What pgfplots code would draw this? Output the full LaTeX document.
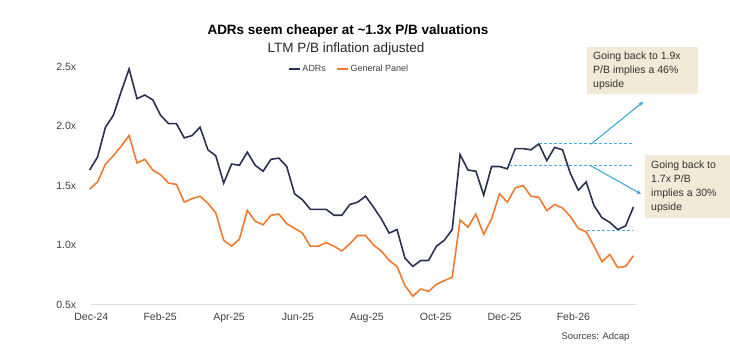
\documentclass[border=0pt]{standalone}
\usepackage{pgfplots}
\pgfplotsset{compat=1.18}
\usepackage{fontspec}
\setmainfont{Liberation Sans}
\usetikzlibrary{arrows.meta}
\definecolor{adr}{HTML}{2B3150}
\definecolor{gp}{HTML}{EE7B30}
\definecolor{dashc}{HTML}{45AEE0}
\definecolor{arrc}{HTML}{2EA3D8}
\definecolor{boxc}{HTML}{F4E8D6}
\definecolor{tickc}{HTML}{404040}
\begin{document}
\begin{tikzpicture}
\path[use as bounding box] (0pt,0pt) rectangle (730pt,360pt);
\begin{axis}[
  at={(89.7pt,55.5pt)}, anchor=south west,
  scale only axis, width=547.3pt, height=238pt,
  xmin=0, xmax=69.45, ymin=0.5, ymax=2.5,
  axis x line*=bottom, axis y line*=left,
  x axis line style={draw=black!12, line width=1.2pt},
  y axis line style={draw=none},
  major tick length=0pt,
  xtick={0.2,8.94,17.68,26.42,35.16,43.9,52.64,61.38},
  xticklabels={Dec-24,Feb-25,Apr-25,Jun-25,Aug-25,Oct-25,Dec-25,Feb-26},
  ytick={0.5,1,1.5,2,2.5},
  yticklabel={\pgfmathprintnumber[fixed,fixed zerofill,precision=1]{\tick}x},
  /pgf/number format/assume math mode=true,
  tick label style={font=\fontsize{10.5}{12}\selectfont, text=tickc},
  yticklabel style={xshift=-10pt},
  xticklabel style={yshift=-5pt},
  clip=false,
  legend columns=2,
  legend style={draw=none, fill=none, at={(0.4738,0.9895)}, anchor=center,
    font=\fontsize{9}{10}\selectfont, text=tickc,
    /tikz/every even column/.append style={column sep=8pt}},
  legend image code/.code={\draw[#1, line width=1.6pt] (0pt,0pt) -- (11pt,0pt);},
]
\addplot[adr, line width=1.6pt] coordinates {
(0,1.63)(1,1.74)(2,1.99)(3,2.09)(4,2.29)(5,2.48)(6,2.23)(7,2.26)(8,2.22)(9,2.09)
(10,2.02)(11,2.02)(12,1.90)(13,1.92)(14,1.99)(15,1.80)(16,1.75)(17,1.52)(18,1.68)(19,1.67)
(20,1.78)(21,1.67)(22,1.62)(23,1.72)(24,1.73)(25,1.66)(26,1.43)(27,1.38)(28,1.30)(29,1.30)
(30,1.30)(31,1.25)(32,1.25)(33,1.34)(34,1.36)(35,1.41)(36,1.32)(37,1.22)(38,1.10)(39,1.13)
(40,0.89)(41,0.82)(42,0.87)(43,0.87)(44,0.99)(45,1.04)(46,1.13)(47,1.76)(48,1.63)(49,1.62)
(50,1.42)(51,1.66)(52,1.66)(53,1.64)(54,1.81)(55,1.81)(56,1.80)(57,1.85)(58,1.71)(59,1.82)
(60,1.80)(61,1.60)(62,1.46)(63,1.53)(64,1.33)(65,1.23)(66,1.19)(67,1.13)(68,1.16)(69,1.32)
};
\addlegendentry{ADRs}
\addplot[gp, line width=1.6pt] coordinates {
(0,1.47)(1,1.53)(2,1.68)(3,1.75)(4,1.83)(5,1.92)(6,1.69)(7,1.72)(8,1.63)(9,1.59)
(10,1.52)(11,1.51)(12,1.36)(13,1.39)(14,1.41)(15,1.35)(16,1.27)(17,1.04)(18,0.99)(19,1.05)
(20,1.29)(21,1.20)(22,1.17)(23,1.25)(24,1.26)(25,1.18)(26,1.14)(27,1.10)(28,0.99)(29,0.99)
(30,1.02)(31,0.99)(32,0.95)(33,1.01)(34,1.08)(35,1.08)(36,1.00)(37,0.95)(38,0.87)(39,0.82)
(40,0.66)(41,0.57)(42,0.63)(43,0.61)(44,0.67)(45,0.70)(46,0.73)(47,1.21)(48,1.15)(49,1.26)
(50,1.09)(51,1.22)(52,1.43)(53,1.36)(54,1.48)(55,1.50)(56,1.41)(57,1.40)(58,1.29)(59,1.34)
(60,1.31)(61,1.24)(62,1.14)(63,1.11)(64,0.99)(65,0.86)(66,0.92)(67,0.81)(68,0.82)(69,0.91)
};
\addlegendentry{General Panel}
\addplot[dashc, line width=1.1pt, dash pattern=on 3pt off 2pt, forget plot] coordinates {(57,1.85)(69,1.85)};
\addplot[dashc, line width=1.1pt, dash pattern=on 3pt off 2pt, forget plot] coordinates {(53.2,1.665)(69,1.665)};
\addplot[dashc, line width=1.1pt, dash pattern=on 3pt off 2pt, forget plot] coordinates {(63.1,1.12)(69,1.12)};
\draw[arrc, line width=1pt, -{Stealth[length=5pt,width=4pt]}] (axis cs:63.58,1.846) -- (axis cs:70.25,2.204);
\draw[arrc, line width=1pt, -{Stealth[length=5pt,width=4pt]}] (axis cs:63.58,1.666) -- (axis cs:69.96,1.429);
\end{axis}
% titles
\node[font=\bfseries\fontsize{13.5}{15}\selectfont, text=black] at (348pt,329pt) {ADRs seem cheaper at \textasciitilde1.3x P/B valuations};
\node[font=\fontsize{13.5}{15}\selectfont, text=black!85] at (346pt,311pt) {LTM P/B inflation adjusted};
% annotation boxes
\fill[boxc] (587pt,313pt) rectangle (698pt,266pt);
\node[align=left, anchor=west, font=\fontsize{10.5}{14}\selectfont, text=black!80, inner sep=0pt] at (593pt,289.5pt) {Going back to 1.9x\\P/B implies a 46\%\\upside};
\fill[boxc] (645pt,205pt) rectangle (729.5pt,142pt);
\node[align=left, anchor=west, font=\fontsize{10.5}{14}\selectfont, text=black!80, inner sep=0pt] at (651pt,173.5pt) {Going back to\\1.7x P/B\\implies a 30\%\\upside};
% source
\node[anchor=east, font=\fontsize{9.5}{11}\selectfont, text=tickc] at (633pt,23pt) {Sources: Adcap};
\end{tikzpicture}
\end{document}
